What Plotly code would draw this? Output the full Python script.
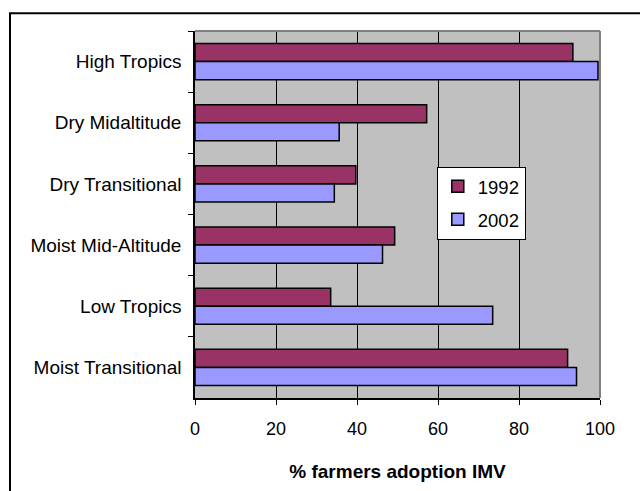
import plotly.graph_objects as go

# Agro-ecological zones, listed top to bottom
zones = ["High Tropics", "Dry Midaltitude", "Dry Transitional",
         "Moist Mid-Altitude", "Low Tropics", "Moist Transitional"]
adoption_1992 = [93.3, 57.2, 39.7, 49.3, 33.5, 92.0]
adoption_2002 = [99.5, 35.6, 34.4, 46.3, 73.5, 94.2]
x_ticks = [0, 20, 40, 60, 80, 100]

FONT = "Liberation Sans, Arial, sans-serif"

fig = go.Figure()
fig.add_trace(go.Bar(
    y=zones, x=adoption_1992, name="1992", orientation="h",
    marker=dict(color="#993366", line=dict(color="black", width=1.5)),
    legendgroup="a",
))
fig.add_trace(go.Bar(
    y=zones, x=adoption_2002, name="2002", orientation="h",
    marker=dict(color="#9999FF", line=dict(color="black", width=1.5)),
    legendgroup="b",
))

fig.update_layout(
    width=640, height=491,
    margin=dict(l=195, r=40, t=31, b=90),
    paper_bgcolor="white",
    plot_bgcolor="#C0C0C0",
    barmode="group",
    bargap=0.41,
    bargroupgap=0,
    font=dict(family=FONT, size=18.5, color="black"),
    showlegend=True,
    legend=dict(
        x=0.597, y=0.63, xanchor="left", yanchor="top",
        bgcolor="white", bordercolor="black", borderwidth=1,
        font=dict(family=FONT, size=18.5, color="black"),
        traceorder="grouped", tracegroupgap=6,
        itemwidth=30,
    ),
    xaxis=dict(
        range=[0, 100], tickvals=x_ticks,
        showgrid=True, gridcolor="black", gridwidth=1,
        showline=True, linecolor="black", linewidth=1.5,
        ticks="outside", ticklen=5, tickcolor="black",
        ticklabelstandoff=9,
        tickfont=dict(size=18),
        zeroline=False,
        title=dict(text="<b>% farmers adoption IMV</b>",
                   font=dict(family=FONT, size=19), standoff=26),
    ),
    yaxis=dict(
        autorange="reversed",
        showgrid=False,
        showline=True, linecolor="black", linewidth=1.5,
        ticks="outside", ticklen=5, tickcolor="black",
        tickson="boundaries",
        ticklabelstandoff=8,
        tickfont=dict(size=19),
    ),
)

# Gray plot-area edge on top and right
fig.add_shape(type="line", xref="paper", yref="paper", x0=0, x1=1, y0=1, y1=1,
              line=dict(color="#808080", width=2), layer="above")
fig.add_shape(type="line", xref="paper", yref="paper", x0=1, x1=1, y0=0, y1=1,
              line=dict(color="#808080", width=2), layer="above")

# Outer chart frame
fig.add_shape(type="rect", xref="paper", yref="paper",
              x0=-0.4568, x1=1.2, y0=-0.3, y1=1.0486,
              line=dict(color="black", width=2), fillcolor="rgba(0,0,0,0)")

fig.write_html("out.html")
